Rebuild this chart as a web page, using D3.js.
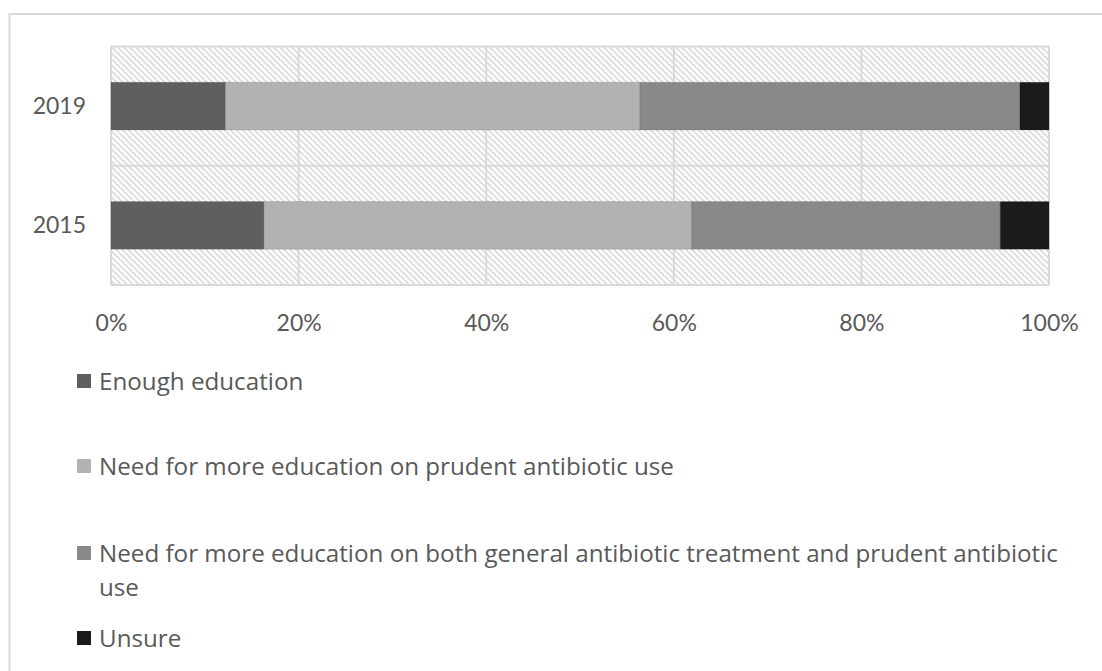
<!DOCTYPE html>
<html>
<head>
<meta charset="utf-8">
<script src="https://cdn.jsdelivr.net/npm/d3@7"></script>
<style>
  body { margin: 0; background: #fff; }
  svg { display: block; font-family: Lato, "Open Sans", sans-serif; }
</style>
</head>
<body>
<svg id="chart" width="1102" height="671"></svg>
<script>
var years = ["2019", "2015"];

var series_names = [
  "Enough education",
  "Need for more education on prudent antibiotic use",
  "Need for more education on both general antibiotic treatment and prudent antibiotic use",
  "Unsure",
];

// percent of answers, per year, same order as years
var enough = [12.2, 16.3];
var prudent = [44.2, 45.6];
var both = [40.5, 32.9];
var unsure = [3.1, 5.2];

var tick_values = [0, 0.2, 0.4, 0.6, 0.8, 1];

var colors = ["#5f5f5f", "#b2b2b2", "#898989", "#1b1b1b"];

var svg = d3.select("#chart");
var margin = { top: 46.5, left: 111, right: 53, bottom: 386 };
var width = 1102 - margin.left - margin.right,
  height = 671 - margin.top - margin.bottom;

// outer chart frame
svg
  .append("rect")
  .attr("x", 9.5)
  .attr("y", 14)
  .attr("width", 1200)
  .attr("height", 800)
  .attr("fill", "none")
  .attr("stroke", "#d9d9d9")
  .attr("stroke-width", 2);

var defs = svg.append("defs");
var pat = defs
  .append("pattern")
  .attr("id", "hatch")
  .attr("patternUnits", "userSpaceOnUse")
  .attr("width", 6)
  .attr("height", 6);
pat.append("rect").attr("width", 6).attr("height", 6).attr("fill", "#fff");
pat
  .append("path")
  .attr("d", "M-1,-1L7,7M-1,5L1,7M5,-1L7,1")
  .attr("stroke", "#cfcfcf")
  .attr("stroke-width", 1.3);

var g = svg
  .append("g")
  .attr("transform", "translate(" + margin.left + "," + margin.top + ")");

var x = d3.scaleLinear().domain([0, 1]).range([0, width]);
var y = d3.scaleBand().domain(years).range([0, height]).paddingInner(0).paddingOuter(0);

g.append("rect")
  .attr("width", width)
  .attr("height", height)
  .attr("fill", "url(#hatch)");

// vertical gridlines
g.append("g")
  .selectAll("line")
  .data(tick_values)
  .enter()
  .append("line")
  .attr("x1", function (d) { return x(d); })
  .attr("x2", function (d) { return x(d); })
  .attr("y1", 0)
  .attr("y2", height)
  .attr("stroke", "#d9d9d9")
  .attr("stroke-width", 2);

// horizontal band lines
var bandEdges = years.map(function (d) { return y(d); }).concat([height]);
g.append("g")
  .selectAll("line")
  .data(bandEdges)
  .enter()
  .append("line")
  .attr("x1", 0)
  .attr("x2", width)
  .attr("y1", function (d) { return d; })
  .attr("y2", function (d) { return d; })
  .attr("stroke", "#d9d9d9")
  .attr("stroke-width", 2);

var rows = years.map(function (yr, i) {
  return { year: yr, vals: [enough[i], prudent[i], both[i], unsure[i]] };
});

var barH = y.bandwidth() * 0.4;

rows.forEach(function (r) {
  var total = d3.sum(r.vals);
  var acc = 0;
  var segs = r.vals.map(function (v, k) {
    var s = { x0: acc / total, x1: (acc + v) / total, k: k };
    acc += v;
    return s;
  });
  g.append("g")
    .selectAll("rect")
    .data(segs)
    .enter()
    .append("rect")
    .attr("x", function (d) { return x(d.x0); })
    .attr("width", function (d) { return x(d.x1) - x(d.x0); })
    .attr("y", y(r.year) + (y.bandwidth() - barH) / 2)
    .attr("height", barH)
    .attr("fill", function (d) { return colors[d.k]; })
    .attr("stroke", "rgba(0,0,0,0.12)")
    .attr("stroke-width", 1);
});

// axes
var xAxis = g
  .append("g")
  .attr("transform", "translate(0," + height + ")")
  .call(d3.axisBottom(x).tickValues(tick_values).tickFormat(d3.format(".0%")).tickSize(0).tickPadding(30));
xAxis.select(".domain").remove();
xAxis.selectAll("text").attr("font-size", 23).attr("fill", "#595959").attr("font-family", "Lato");

var yAxis = g.append("g").call(d3.axisLeft(y).tickSize(0).tickPadding(25));
yAxis.select(".domain").remove();
yAxis.selectAll("text").attr("font-size", 23).attr("fill", "#595959").attr("font-family", "Lato");

// legend
var legendRows = [
  { lines: [series_names[0]], y: 381 },
  { lines: [series_names[1]], y: 466 },
  { lines: ["Need for more education on both general antibiotic treatment and prudent antibiotic", "use"], y: 553 },
  { lines: [series_names[3]], y: 638 },
];

var leg = svg.append("g");
legendRows.forEach(function (row, i) {
  leg.append("rect")
    .attr("x", 77)
    .attr("y", row.y - 7)
    .attr("width", 14)
    .attr("height", 14)
    .attr("fill", colors[i]);
  var t = leg.append("text")
    .attr("x", 99)
    .attr("y", row.y + 8.5)
    .attr("font-size", 24.2)
    .attr("font-family", "'Open Sans', Lato, sans-serif")
    .attr("fill", "#595959");
  row.lines.forEach(function (ln, j) {
    t.append("tspan").attr("x", 99).attr("dy", j === 0 ? 0 : 34).text(ln);
  });
});
</script>
</body>
</html>
